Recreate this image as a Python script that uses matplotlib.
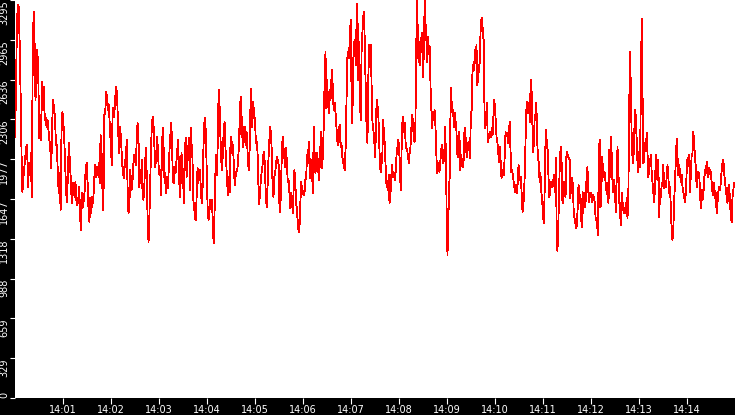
#Line chart of a 15 minute reading, white plot on black frame
import matplotlib
matplotlib.use("Agg")
import matplotlib.pyplot as plt
import numpy as np

#values, one list per 2.5 minute block (14:00:00 onwards)
vals_1400 = [2161, 2508, 3071, 3254, 3237, 2939, 2525, 2028, 1705, 1829,
             1904, 1995, 2078, 2094, 1747, 1945, 1846, 2028, 1664, 2773,
             3196, 2964, 2467, 2657, 2881, 2699, 2152, 2343, 2136, 2616,
             2384, 2575, 2301, 2318, 2243, 2301, 2219, 2136, 2053, 1904,
             2277, 2467, 2384, 2326, 2094, 2094, 1863, 1697, 1863, 1556,
             2202, 2368, 2285, 2136, 1912, 1697, 1622, 1912, 2111, 1945,
             1805, 1614, 1780, 1780, 1664, 1788, 1639, 1598, 1639, 1747,
             1498, 1391, 1697, 1581, 1639, 1722, 1904, 1945, 1788, 1573,
             1457, 1656, 1531, 1664, 1614, 1763, 1929, 1829, 1912, 1846,
             1945, 1780, 2177, 2053, 1722, 1556, 2343, 2359, 2533, 2492,
             2384, 2426, 2219, 2111, 1929, 2401, 2326, 2384, 2508, 2575,
             2442, 2194, 2028, 2243, 2136, 1970, 1863, 1821, 1970, 1912,
             2136, 1747, 1531, 1614, 1887, 1722, 1738, 1912, 2012]
vals_1402 = [1970, 1929, 2136, 2277, 2219, 1747, 1887, 1780, 1970, 1664,
             1639, 1747, 1954, 2070, 1805, 1449, 1291, 1490, 1788, 2070,
             2277, 2326, 2243, 2078, 1912, 1995, 2161, 2078, 1912, 1846,
             1887, 1680, 2111, 2235, 2036, 1780, 1863, 1697, 1805, 1738,
             1904, 2078, 2194, 2277, 2028, 1788, 1780, 1912, 1863, 1954,
             2053, 2136, 1912, 1664, 1780, 2028, 1954, 1780, 1614, 2036,
             2152, 1829, 1929, 2078, 2152, 1722, 2235, 2094, 1987, 1639,
             1581, 1490, 1473, 1697, 1904, 1780, 1871, 1887, 1705, 1614,
             1747, 2070, 2277, 2318, 2161, 1829, 1556, 1473, 1531, 1639,
             1581, 1639, 1473, 1283, 1490, 1829, 2012, 1846, 2152, 2550,
             2442, 2177, 1970, 1887, 2036, 2235, 2285, 2078, 1945, 1788,
             1680, 1829, 1705, 2111, 2161, 2028, 2094, 1912, 1763, 1829,
             1871, 1887, 1970, 2094, 2343, 2492, 2161, 2326, 2078, 2161,
             2243, 2094, 2202, 2070, 1929, 1887, 2161, 2558, 2243, 2401,
             2450, 2318]
vals_1405 = [2318, 2111, 2119, 2036, 1780, 1606, 1697, 1821, 1871, 1929,
             2012, 2036, 1871, 1647, 1581, 1763, 1970, 2119, 2243, 2194,
             2036, 1747, 1664, 1829, 1863, 1929, 1995, 1945, 1970, 1622,
             1540, 1738, 2036, 2161, 2070, 1995, 1912, 2070, 1945, 1788,
             1805, 1705, 1573, 1697, 1639, 1531, 1722, 1887, 1788, 1614,
             1556, 1449, 1374, 1415, 1614, 1788, 1738, 1705, 1680, 1697,
             1805, 1829, 2012, 1945, 2119, 1995, 1821, 1970, 1863, 1697,
             2243, 2036, 1863, 1945, 2028, 1945, 1805, 1912, 2094, 2202,
             1904, 2028, 2277, 2641, 2864, 2401, 2633, 2442, 2359, 2550,
             2467, 2633, 2715, 2467, 2384, 2442, 2359, 2243, 2136, 2094,
             2219, 2260, 2078, 2111, 1995, 1954, 1912, 1887, 2078, 2450,
             2815, 2864, 2815, 2989, 3129, 2566, 2277, 2773, 2939, 2964,
             2757, 3105, 3262, 2633, 2947, 2467, 2301, 2864, 3022, 3154,
             3196, 2864, 2566, 2219, 2111, 2633, 2922, 2840, 2922, 2566,
             2277, 2219, 2161]
vals_1407 = [1995, 2161, 2467, 2426, 2368, 2177, 1945, 1871, 2028, 1945,
             2301, 2202, 2111, 1954, 1780, 1763, 1722, 1846, 1614, 1656,
             1805, 1929, 1829, 1871, 1829, 1805, 1929, 2036, 2078, 2136,
             2070, 1863, 1722, 2053, 2277, 2326, 2202, 2277, 2111, 2070,
             2053, 1995, 1945, 2028, 2078, 2219, 2343, 2301, 2161, 2119,
             2177, 2732, 3295, 3063, 2782, 2947, 2757, 2922, 3022, 2840,
             2657, 3088, 3295, 3047, 2939, 2782, 2989, 2856, 2906, 2566,
             2384, 2235, 2368, 2301, 2384, 2260, 2070, 1863, 1945, 1904,
             1871, 1945, 2036, 2094, 1954, 1945, 2012, 2243, 2028, 1515,
             1184, 1473, 1738, 1863, 2566, 2467, 2368, 2384, 2243, 2359,
             2301, 2235, 2028, 1995, 2202, 2136, 1887, 2012, 1954, 1912,
             1970, 2194, 2235, 2078, 1995, 2111, 2053, 2119, 1987, 2343,
             2384, 2691, 2757, 2715, 2881, 2773, 2922, 2591, 2657, 2732,
             2782, 3022, 3129, 3146, 3005, 2964, 2359, 2235, 2343, 2442,
             2119, 2177, 2152, 2202, 2161, 2235, 2177, 2326, 2467]
vals_1410 = [2401, 2277, 2152, 2111, 2028, 1954, 2078, 1945, 1821, 1846,
             1887, 1846, 2012, 2202, 2177, 2194, 2111, 2161, 2285, 2078,
             1871, 1887, 1846, 1788, 1738, 1705, 1763, 1697, 1780, 1929,
             1846, 1805, 1829, 1664, 1540, 1598, 1722, 1912, 2243, 2442,
             2450, 2359, 2442, 2285, 2633, 2575, 2301, 2036, 2111, 2343,
             2301, 2442, 2136, 1987, 1945, 1788, 1863, 1722, 1639, 1556,
             1449, 1639, 2053, 2219, 2094, 2053, 1821, 1664, 1705, 1788,
             1747, 1747, 1805, 1846, 1705, 1987, 1449, 1217, 1407, 1705,
             1970, 2078, 1995, 1639, 1614, 1788, 1680, 1664, 1995, 2036,
             1995, 1987, 1970, 1656, 1821, 1821, 1763, 1556, 1490, 1449,
             1407, 1432, 1581, 1763, 1697, 1656, 1531, 1415, 1705, 1531,
             1697, 1581, 1639, 1846, 1912, 1722, 1622, 1697, 1664, 1697,
             1622, 1680, 1664, 1614, 1498, 1473, 1432, 1349, 1995, 2136,
             1581, 1614, 1995, 1912, 1829, 1871, 1821, 1722, 1780, 1639,
             1614, 2053, 1829, 2161, 1995, 1763, 1705, 1805]
vals_1412 = [1705, 1540, 1805, 2078, 1912, 1639, 1531, 1432, 1697, 1622,
             1556, 1531, 1573, 1531, 1656, 1490, 1664, 2359, 2864, 2566,
             2161, 1995, 1945, 2161, 2384, 2326, 2136, 1945, 1871, 2036,
             1912, 2492, 3138, 2533, 1945, 1970, 2111, 2053, 2194, 2028,
             1829, 1887, 1954, 2012, 1871, 1788, 1697, 1622, 1747, 2012,
             1871, 1805, 1970, 1498, 1705, 1664, 1763, 1788, 1929, 1738,
             1788, 1747, 1821, 1929, 1829, 1697, 1747, 1581, 1391, 1308,
             1407, 1622, 1788, 1970, 2144, 1987, 1846, 1929, 1863, 1788,
             1846, 1747, 1705, 1664, 1622, 1697, 1871, 1987, 1929, 2012,
             1705, 1863, 2012, 2028, 2202, 2111, 1995, 1912, 1747, 1829,
             1871, 1863, 1705, 1573, 1722, 1639, 1680, 1805, 1887, 1863,
             1954, 1904, 1829, 1904, 1871, 1871, 1788, 1697, 1680, 1780,
             1656, 1697, 1531, 1622, 1705, 1747, 1722, 1788, 1887, 1945,
             1970, 1863, 1788, 1722, 1664, 1614, 1738, 1763, 1622, 1498,
             1457, 1664, 1722, 1780]

blocks = [vals_1400, vals_1402, vals_1405, vals_1407, vals_1410, vals_1412]
block_start = [0, 150, 300, 450, 600, 750]   #seconds after 14:00
block_len = 150

ymax = 3295
ytick_vals = [i * ymax / 10 for i in range(11)]
ytick_labels = [str(int(v)) for v in ytick_vals]
xtick_vals = [60 * m for m in range(1, 15)]
xtick_labels = ["14:%02d" % m for m in range(1, 15)]

#time axis: samples spread evenly inside each block
t = np.concatenate([np.linspace(s, s + block_len, len(b), endpoint=False)
                    for s, b in zip(block_start, blocks)])
v = np.concatenate([np.array(b, dtype=float) for b in blocks])

fig = plt.figure(figsize=(7.35, 4.15), dpi=100, facecolor="black")
ax = fig.add_axes([15/735, 17/415, 720/735, 398/415])
ax.set_facecolor("white")

ax.plot(t, v, color="#ff0000", lw=0.6, antialiased=False)

ax.set_xlim(0, 900)
ax.set_ylim(0, ymax)
for s in ax.spines.values():
    s.set_visible(False)

ax.set_yticks(ytick_vals)
ax.set_yticklabels(ytick_labels, rotation=90, va="top", color="white",
                   fontsize=7, family="DejaVu Sans")
ax.tick_params(axis="y", colors="white", length=3.6, width=0.8, pad=0.6,
               direction="out")
ax.get_yticklabels()[0].set_va("bottom")

ax.set_xticks(xtick_vals)
ax.set_xticklabels(xtick_labels, color="white", fontsize=7,
                   family="DejaVu Sans")
ax.tick_params(axis="x", colors="white", length=4.5, width=0.8, pad=0.4,
               direction="out")

fig.savefig("out.png", dpi=100, facecolor="black")
